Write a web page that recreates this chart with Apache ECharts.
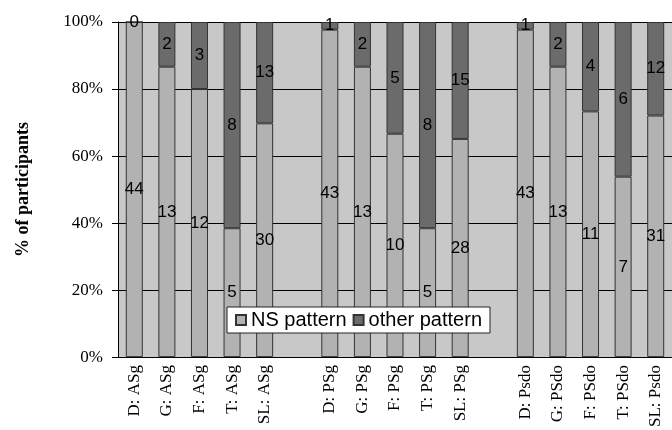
<!DOCTYPE html>
<html>
<head>
<meta charset="utf-8">
<script src="https://cdn.jsdelivr.net/npm/echarts@6/dist/echarts.min.js"></script>
<style>
html,body{margin:0;padding:0;background:#fff;}
#chart{width:672px;height:430px;}
</style>
</head>
<body>
<div id="chart"></div>
<script>
var categories = ['D: ASg','G: ASg','F: ASg','T: ASg','SL: ASg','',
                  'D: PSg','G: PSg','F: PSg','T: PSg','SL: PSg','',
                  'D: Psdo','G: PSdo','F: PSdo','T: PSdo','SL: Psdo'];
var nsCounts    = [44,13,12,5,30,null,43,13,10,5,28,null,43,13,11,7,31];
var otherCounts = [0,2,3,8,13,null,1,2,5,8,15,null,1,2,4,6,12];
var yTicks = [0,20,40,60,80,100];

function pct(arr, i){
  var a = nsCounts[i], b = otherCounts[i];
  if (a == null || b == null) return null;
  return arr[i] / (a + b) * 100;
}
var nsPct = nsCounts.map(function(v,i){ return pct(nsCounts,i); });
var otherPct = otherCounts.map(function(v,i){ return pct(otherCounts,i); });

var chart = echarts.init(document.getElementById('chart'), null, {renderer:'canvas'});
var labelStyle = {
  show:true, position:'inside', color:'#000',
  fontFamily:'Liberation Sans, Arial, sans-serif', fontSize:17
};
chart.setOption({
  animation:false,
  backgroundColor:'#fff',
  grid:{left:118, top:22, height:336, width:566, show:true, backgroundColor:'#c8c8c8', borderWidth:0},
  legend:{
    left:227, top:307, orient:'horizontal',
    backgroundColor:'#fff', borderColor:'#222', borderWidth:1,
    padding:[3,8,3,8], itemWidth:10, itemHeight:10, itemGap:6,
    icon:'rect',
    textStyle:{fontFamily:'Liberation Sans, Arial, sans-serif', fontSize:20, color:'#000', padding:[0,0,0,0]},
    data:['NS pattern','other pattern']
  },
  xAxis:{
    type:'category', data:categories,
    axisLine:{show:true, lineStyle:{color:'#000', width:1}},
    axisTick:{show:false},
    axisLabel:{rotate:90, interval:0, color:'#000', fontFamily:'Liberation Serif, Times New Roman, serif', fontSize:17, margin:8},
    splitLine:{show:false}
  },
  yAxis:{
    type:'value', min:yTicks[0], max:yTicks[yTicks.length-1], interval:20,
    name:'% of participants', nameLocation:'middle', nameGap:86, nameRotate:90,
    nameTextStyle:{fontFamily:'Liberation Serif, Times New Roman, serif', fontWeight:'bold', fontSize:18, color:'#000'},
    axisLine:{show:true, lineStyle:{color:'#000', width:1}},
    axisTick:{show:true, inside:false, length:6, lineStyle:{color:'#000'}},
    axisLabel:{formatter:'{value}%', color:'#000', fontFamily:'Liberation Serif, Times New Roman, serif', fontSize:17, margin:15},
    splitLine:{show:true, lineStyle:{color:'#000', width:1}}
  },
  series:[
    {
      name:'NS pattern', type:'bar', stack:'a', data:nsPct, barWidth:17,
      itemStyle:{color:'#b2b2b2', borderColor:'#333', borderWidth:1},
      label:Object.assign({}, labelStyle, {formatter:function(p){ return nsCounts[p.dataIndex]; }})
    },
    {
      name:'other pattern', type:'bar', stack:'a', data:otherPct, barWidth:17,
      itemStyle:{color:'#6b6b6b', borderColor:'#333', borderWidth:1},
      label:Object.assign({}, labelStyle, {formatter:function(p){ return otherCounts[p.dataIndex]; }})
    }
  ]
});
</script>
</body>
</html>
